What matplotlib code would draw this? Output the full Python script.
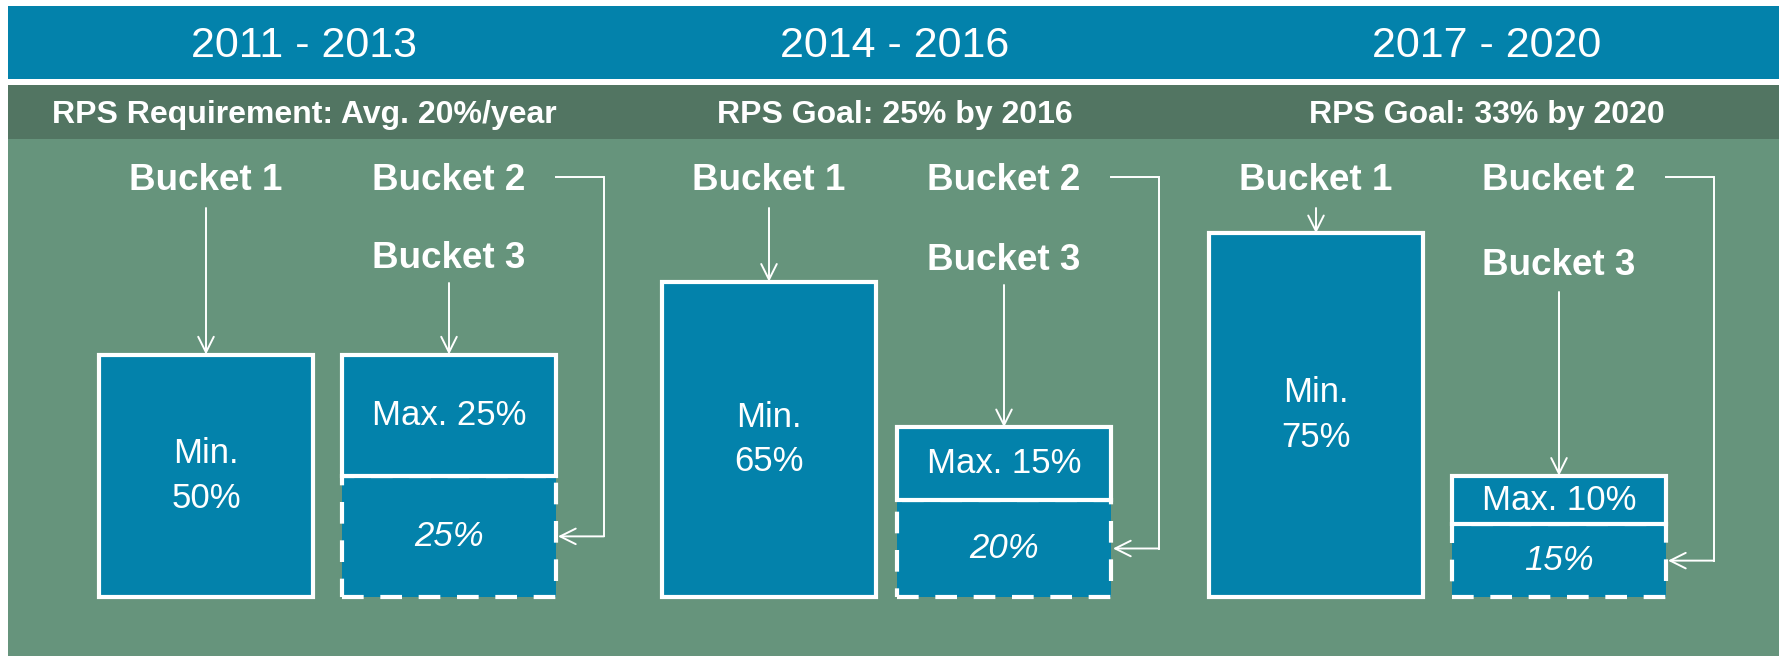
import matplotlib
matplotlib.use("Agg")
import matplotlib.pyplot as plt
from matplotlib.patches import Rectangle

# data
periods = ['2011 - 2013', '2014 - 2016', '2017 - 2020']
goals = ['RPS Requirement: Avg. 20%/year', 'RPS Goal: 25% by 2016', 'RPS Goal: 33% by 2020']
bucket1_min = [50, 65, 75]
bucket3_max = [25, 15, 10]
bucket2 = [25, 20, 15]

# layout (pixels)
W, H = 1779, 656
base_px = 597
px_per_pct = 4.85
panel_cx = [304, 895, 1487]
b1_x = [206, 769, 1316]
b2_x = [449, 1004, 1559]
bar_w = 214
lbl3_px = [258, 260, 265]
arr3_px = [283, 285, 292]

blue = '#0382AB'
dark_green = '#527562'
light_green = '#66947C'

plt.rcParams['font.family'] = ['Liberation Sans', 'DejaVu Sans']


def py(p):
    # pixel row -> percent axis
    return (base_px - p) / px_per_pct


fig = plt.figure(figsize=(W / 100, H / 100), dpi=100)
fig.patch.set_facecolor('white')
ax = fig.add_axes([0, 0, 1, 1])
ax.set_xlim(0, W)
ax.set_ylim(py(H), py(0))
ax.axis('off')

# background bands
ax.add_patch(Rectangle((8, py(79)), W, py(6) - py(79), color=blue, lw=0, zorder=0))
ax.add_patch(Rectangle((8, py(139)), W, py(85) - py(139), color=dark_green, lw=0, zorder=0))
ax.add_patch(Rectangle((8, py(H)), W, py(139) - py(H), color=light_green, lw=0, zorder=0))

for i in range(3):
    ax.text(panel_cx[i], py(46), periods[i], color='white', fontsize=31,
            ha='center', va='center')
    ax.text(panel_cx[i], py(115), goals[i], color='white', fontsize=23,
            fontweight='bold', ha='center', va='center')

# bars
lw = 3.0
ax.bar(b1_x, bucket1_min, width=bar_w, color=blue, edgecolor='white', linewidth=lw, zorder=2)
ax.bar(b2_x, bucket2, width=bar_w, color=blue, edgecolor='white', linewidth=lw,
       linestyle=(0, (5.2, 4.0)), zorder=2)
ax.bar(b2_x, bucket3_max, bottom=bucket2, width=bar_w, color=blue, edgecolor='white',
       linewidth=lw, zorder=3)

arrow = dict(arrowstyle='->', color='white', lw=1.4, shrinkA=0, shrinkB=0, mutation_scale=28)

for i in range(3):
    # labels inside bars
    ax.text(b1_x[i], bucket1_min[i] / 2, f'Min.\n{bucket1_min[i]}%', color='white',
            fontsize=25, ha='center', va='center', linespacing=1.45, zorder=4)
    ax.text(b2_x[i], bucket2[i] + bucket3_max[i] / 2, f'Max. {bucket3_max[i]}%',
            color='white', fontsize=25, ha='center', va='center', zorder=4)
    ax.text(b2_x[i], bucket2[i] / 2, f'{bucket2[i]}%', color='white', fontsize=25,
            style='italic', ha='center', va='center', zorder=4)

    # bucket titles
    ax.text(b1_x[i], py(181), 'Bucket 1', color='white', fontsize=26.5,
            fontweight='bold', ha='center', va='center')
    ax.text(b2_x[i], py(181), 'Bucket 2', color='white', fontsize=26.5,
            fontweight='bold', ha='center', va='center')
    ax.text(b2_x[i], py(lbl3_px[i]), 'Bucket 3', color='white', fontsize=26.5,
            fontweight='bold', ha='center', va='center')

    # arrows down
    ax.annotate('', xy=(b1_x[i], bucket1_min[i]), xytext=(b1_x[i], py(208)),
                arrowprops=arrow, zorder=5)
    top2 = bucket2[i] + bucket3_max[i]
    ax.annotate('', xy=(b2_x[i], top2), xytext=(b2_x[i], py(arr3_px[i])),
                arrowprops=arrow, zorder=5)

    # bucket 2 connector
    right = b2_x[i] + bar_w / 2
    mid = bucket2[i] / 2
    ax.plot([right, right + 48, right + 48], [py(177), py(177), mid],
            color='white', lw=1.4, solid_joinstyle='miter', zorder=5)
    ax.annotate('', xy=(right + 2, mid), xytext=(right + 48, mid),
                arrowprops=arrow, zorder=5)

fig.savefig('out.png', dpi=100, facecolor=fig.get_facecolor())
